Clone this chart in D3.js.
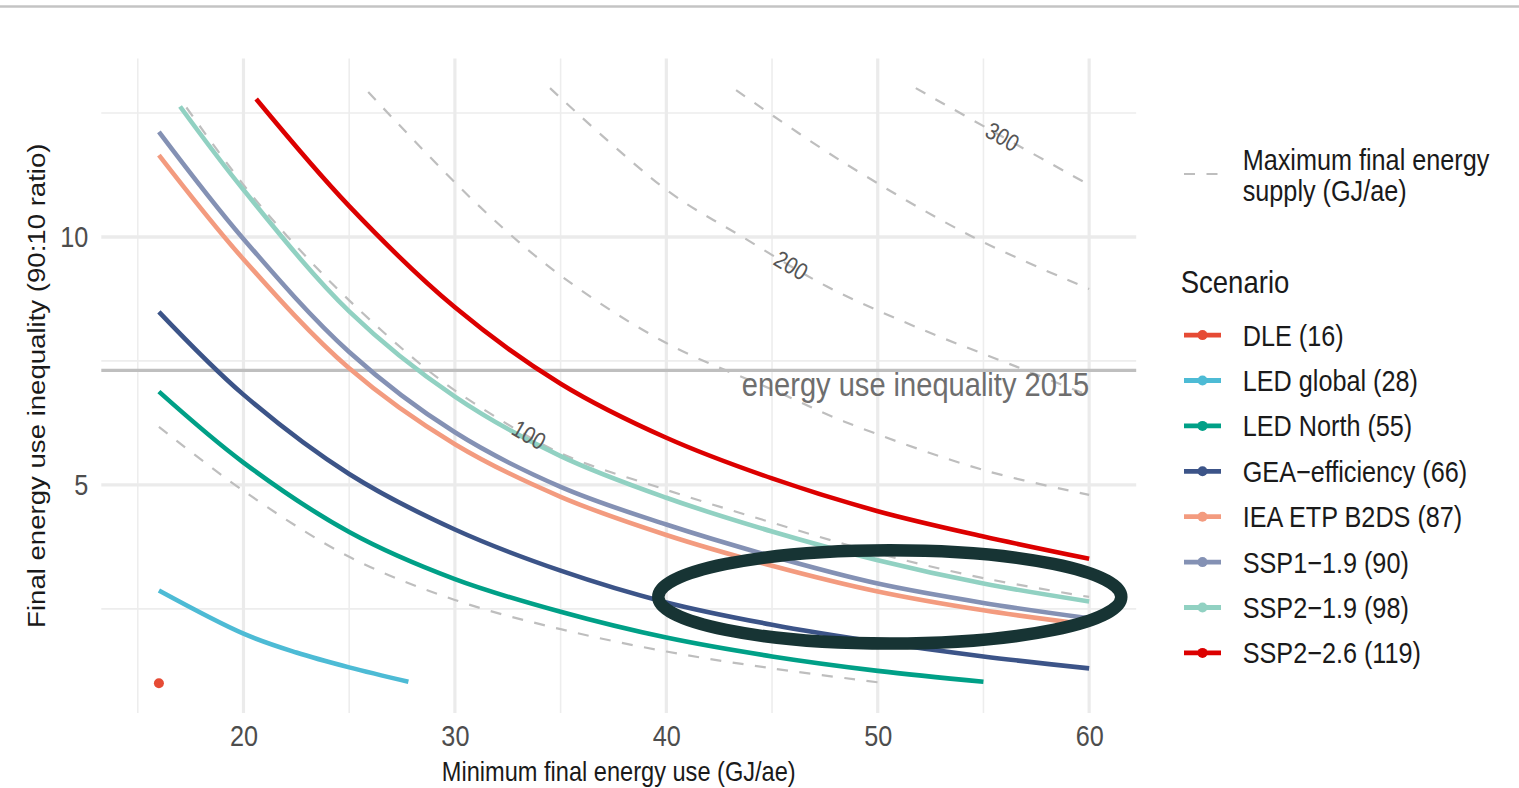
<!DOCTYPE html>
<html>
<head>
<meta charset="utf-8">
<script src="https://cdn.jsdelivr.net/npm/d3@7"></script>
<style>
  body { margin: 0; background: #ffffff; }
  svg { display: block; }
  text { font-family: "Liberation Sans", Arial, sans-serif; }
</style>
</head>
<body>
<svg id="chart" width="1519" height="788"></svg>
<script>
// ---------------- DATA ----------------
const scenarioNames = ["DLE (16)", "LED global (28)", "LED North (55)", "GEA\u2212efficiency (66)",
  "IEA ETP B2DS (87)", "SSP1\u22121.9 (90)", "SSP2\u22121.9 (98)", "SSP2\u22122.6 (119)"];
const scenarioColors = ["#E64B35", "#4DBBD5", "#00A087", "#3C5488", "#F39B7F", "#8491B4", "#91D1C2", "#DC0000"];

// minimum final energy use (GJ/ae) -> 90:10 ratio, per scenario
const dleX = [16];
const dleY = [1.0];
const ledGlobalX = [16, 20, 22.5, 25, 27.8];
const ledGlobalY = [2.87, 2.0, 1.62, 1.32, 1.03];
const ledNorthX = [16, 20, 25, 30, 35, 40, 45, 50, 55];
const ledNorthY = [6.88, 5.45, 4.05, 3.10, 2.44, 1.92, 1.54, 1.25, 1.03];
const geaX = [16, 20, 25, 30, 35, 40, 45, 50, 55, 60];
const geaY = [8.49, 6.82, 5.22, 4.10, 3.27, 2.63, 2.18, 1.83, 1.54, 1.30];
const ieaX = [16, 20, 25, 30, 35, 40, 45, 50, 55, 60];
const ieaY = [11.65, 9.55, 7.35, 5.82, 4.76, 3.99, 3.37, 2.85, 2.47, 2.18];
const ssp119X = [16, 20, 25, 30, 35, 40, 45, 50, 55, 60];
const ssp119Y = [12.12, 9.96, 7.68, 6.06, 4.96, 4.20, 3.56, 3.01, 2.62, 2.31];
const ssp219X = [17, 20, 25, 30, 35, 40, 45, 50, 55, 60];
const ssp219Y = [12.63, 10.95, 8.50, 6.78, 5.58, 4.74, 4.06, 3.48, 3.01, 2.65];
const ssp226X = [20.6, 25, 30, 35, 40, 45, 50, 55, 60];
const ssp226Y = [12.78, 10.62, 8.58, 7.04, 5.95, 5.13, 4.47, 3.96, 3.51];

// maximum final energy supply contours (GJ/ae)
const supplyLevels = [50, 100, 150, 200, 250, 300];
const supply50X = [16, 20, 25, 30, 35, 40, 45, 50];
const supply50Y = [6.17, 4.88, 3.55, 2.68, 2.09, 1.64, 1.30, 1.02];
const supply100X = [17.3, 20, 22.1, 25, 28.7, 30.9, 35, 40, 45, 50, 55, 60];
const supply100Y = [12.61, 11.05, 10.0, 8.72, 7.32, 6.65, 5.64, 4.90, 4.24, 3.62, 3.12, 2.74];
const supply150X = [25.9, 31.2, 35.1, 40, 45.4, 48.4, 55, 60];
const supply150Y = [12.92, 10.6, 9.19, 7.86, 6.85, 6.28, 5.30, 4.80];
const supply200X = [34.5, 40, 43.6, 47.6, 52, 56.7, 60];
const supply200Y = [13.0, 10.95, 10.0, 9.0, 8.15, 7.36, 6.80];
const supply250X = [43.3, 48.2, 54.5, 60];
const supply250Y = [12.96, 11.55, 10.0, 8.95];
const supply300X = [51.8, 55.9, 60];
const supply300Y = [13.0, 12.02, 11.05];
const labelledLevels = [100, 200, 300];
const labelAtX = [33.5, 45.9, 55.9];

const ineq2015 = 7.31;
const ineq2015Label = "energy use inequality 2015";

const xTicks = [20, 30, 40, 50, 60];
const yTicks = [5, 10];
const xTitle = "Minimum final energy use (GJ/ae)";
const yTitle = "Final energy use inequality (90:10 ratio)";
const supplyLegendLines = ["Maximum final energy", "supply (GJ/ae)"];
const scenarioLegendTitle = "Scenario";

// highlight ellipse (data units)
const ellipseCenter = [50.57, 2.74];
const ellipseRadius = [10.95, 0.94];

// ---------------- LAYOUT ----------------
const W = 1519, H = 788;
const panel = { left: 101.3, right: 1136.2, top: 58.4, bottom: 713 };
const SX = 0.855; // narrow text look

const x = d3.scaleLinear().domain([13.275, 62.225]).range([panel.left, panel.right]);
const y = d3.scaleLinear().domain([0.4, 13.6]).range([panel.bottom, panel.top]);

const svg = d3.select("#chart");
svg.append("rect").attr("width", W).attr("height", H).attr("fill", "#ffffff");
svg.append("line").attr("x1", 0).attr("x2", W).attr("y1", 6.5).attr("y2", 6.5)
  .attr("stroke", "#c4c4c4").attr("stroke-width", 2.5);

function ntext(parent, px, py, str, size, anchor, fill, rot) {
  return parent.append("text")
    .attr("transform", `translate(${px},${py}) rotate(${rot || 0}) scale(${SX},1)`)
    .attr("text-anchor", anchor)
    .attr("font-size", size)
    .attr("fill", fill)
    .text(str);
}

// ---------------- GRID ----------------
const grid = svg.append("g");
const xMinor = xTicks.map(t => t - 5).filter(t => t > x.domain()[0]);
const yMinor = yTicks.map(t => t - 2.5).concat([yTicks[yTicks.length - 1] + 2.5]).filter(t => t < y.domain()[1]);
grid.selectAll(".xmin").data(xMinor).join("line")
  .attr("x1", d => x(d)).attr("x2", d => x(d)).attr("y1", panel.top).attr("y2", panel.bottom)
  .attr("stroke", "#ededed").attr("stroke-width", 1.6);
grid.selectAll(".ymin").data(yMinor).join("line")
  .attr("y1", d => y(d)).attr("y2", d => y(d)).attr("x1", panel.left).attr("x2", panel.right)
  .attr("stroke", "#ededed").attr("stroke-width", 1.6);
grid.selectAll(".xmaj").data(xTicks).join("line")
  .attr("x1", d => x(d)).attr("x2", d => x(d)).attr("y1", panel.top).attr("y2", panel.bottom)
  .attr("stroke", "#ebebeb").attr("stroke-width", 3.2);
grid.selectAll(".ymaj").data(yTicks).join("line")
  .attr("y1", d => y(d)).attr("y2", d => y(d)).attr("x1", panel.left).attr("x2", panel.right)
  .attr("stroke", "#ebebeb").attr("stroke-width", 3.4);

// ---------------- AXES ----------------
const xAxisG = svg.append("g").attr("transform", `translate(0,${panel.bottom})`)
  .call(d3.axisBottom(x).tickValues(xTicks).tickSize(0).tickPadding(12));
const yAxisG = svg.append("g").attr("transform", `translate(${panel.left},0)`)
  .call(d3.axisLeft(y).tickValues(yTicks).tickSize(0).tickPadding(15.2));
[xAxisG, yAxisG].forEach(g => {
  g.select(".domain").remove();
  g.selectAll("text").attr("font-size", 29.5).attr("fill", "#4d4d4d")
    .attr("font-family", "Liberation Sans, Arial, sans-serif")
    .attr("transform", `scale(${SX},1)`);
});

ntext(svg, (panel.left + panel.right) / 2, 781, xTitle, 27.6, "middle", "#1a1a1a");
svg.append("text")
  .attr("transform", `translate(45,${(panel.top + panel.bottom) / 2}) rotate(-90) scale(1,${SX})`)
  .attr("text-anchor", "middle").attr("font-size", 27.6).attr("fill", "#1a1a1a")
  .text(yTitle);

// ---------------- PLOT LAYERS ----------------
const plot = svg.append("g");
const line = d3.line().x(d => x(d[0])).y(d => y(d[1])).curve(d3.curveCatmullRom.alpha(0.5));

const contours = [
  [supply50X, supply50Y], [supply100X, supply100Y], [supply150X, supply150Y],
  [supply200X, supply200Y], [supply250X, supply250Y], [supply300X, supply300Y]
].map((p, i) => ({ level: supplyLevels[i], pts: p[0].map((v, j) => [v, p[1][j]]) }));

plot.selectAll(".contour").data(contours).join("path")
  .attr("d", d => line(d.pts))
  .attr("fill", "none").attr("stroke", "#bebebe").attr("stroke-width", 2.2)
  .attr("stroke-dasharray", "11,11.5");

// 2015 inequality reference line + label
plot.append("line").attr("x1", panel.left).attr("x2", panel.right)
  .attr("y1", y(ineq2015)).attr("y2", y(ineq2015))
  .attr("stroke", "#bfbfbf").attr("stroke-width", 3.3);
ntext(plot, x(60), y(ineq2015) + 25.5, ineq2015Label, 34, "end", "#6e6e6e");

// scenarios
const seriesXY = [[dleX, dleY], [ledGlobalX, ledGlobalY], [ledNorthX, ledNorthY], [geaX, geaY],
  [ieaX, ieaY], [ssp119X, ssp119Y], [ssp219X, ssp219Y], [ssp226X, ssp226Y]];
const series = seriesXY.map((p, i) => ({
  name: scenarioNames[i], color: scenarioColors[i],
  pts: p[0].map((v, j) => [v, p[1][j]])
}));
plot.selectAll(".scen").data(series.filter(s => s.pts.length > 1)).join("path")
  .attr("d", d => line(d.pts))
  .attr("fill", "none").attr("stroke", d => d.color).attr("stroke-width", 4.6);
plot.selectAll(".scenpt").data(series.filter(s => s.pts.length === 1)).join("circle")
  .attr("cx", d => x(d.pts[0][0])).attr("cy", d => y(d.pts[0][1])).attr("r", 5)
  .attr("fill", d => d.color);

// contour labels along their lines
function interpY(pts, xv) {
  for (let k = 0; k < pts.length - 1; k++) {
    const a = pts[k], b = pts[k + 1];
    if (xv >= a[0] && xv <= b[0]) return a[1] + (b[1] - a[1]) * (xv - a[0]) / (b[0] - a[0]);
  }
  return pts[pts.length - 1][1];
}
labelledLevels.forEach((lv, i) => {
  const c = contours.find(cc => cc.level === lv);
  const xv = labelAtX[i];
  const px = x(xv), py = y(interpY(c.pts, xv));
  const p1 = [x(xv - 0.7), y(interpY(c.pts, xv - 0.7))];
  const p2 = [x(xv + 0.7), y(interpY(c.pts, xv + 0.7))];
  const ang = Math.atan2(p2[1] - p1[1], p2[0] - p1[0]) * 180 / Math.PI;
  ntext(plot, px, py, String(lv), 24, "middle", "#555555", ang).attr("dy", "0.35em");
});

// highlight ellipse annotation
svg.append("ellipse")
  .attr("cx", x(ellipseCenter[0])).attr("cy", y(ellipseCenter[1]))
  .attr("rx", x(ellipseCenter[0] + ellipseRadius[0]) - x(ellipseCenter[0]))
  .attr("ry", y(ellipseCenter[1] - ellipseRadius[1]) - y(ellipseCenter[1]))
  .attr("fill", "none").attr("stroke", "#173434").attr("stroke-width", 12.5);

// ---------------- LEGENDS ----------------
const leg = svg.append("g");
const keyX1 = 1184, keyX2 = 1221, labelX = 1242.7;
leg.append("line").attr("x1", keyX1).attr("x2", keyX2).attr("y1", 174).attr("y2", 174)
  .attr("stroke", "#bebebe").attr("stroke-width", 2.2).attr("stroke-dasharray", "11,11.5");
supplyLegendLines.forEach((t, i) => ntext(leg, labelX, 170 + i * 30.5, t, 29.5, "start", "#1a1a1a"));

ntext(leg, 1180.7, 292.5, scenarioLegendTitle, 32.2, "start", "#1a1a1a");
const rowY0 = 335.1, rowStep = 45.4;
series.forEach((s, i) => {
  const cy = rowY0 + i * rowStep;
  leg.append("line").attr("x1", keyX1).attr("x2", keyX2).attr("y1", cy).attr("y2", cy)
    .attr("stroke", s.color).attr("stroke-width", 4.8);
  leg.append("circle").attr("cx", (keyX1 + keyX2) / 2).attr("cy", cy).attr("r", 5).attr("fill", s.color);
  ntext(leg, labelX, cy + 10.5, s.name, 29.5, "start", "#1a1a1a");
});
</script>
</body>
</html>
